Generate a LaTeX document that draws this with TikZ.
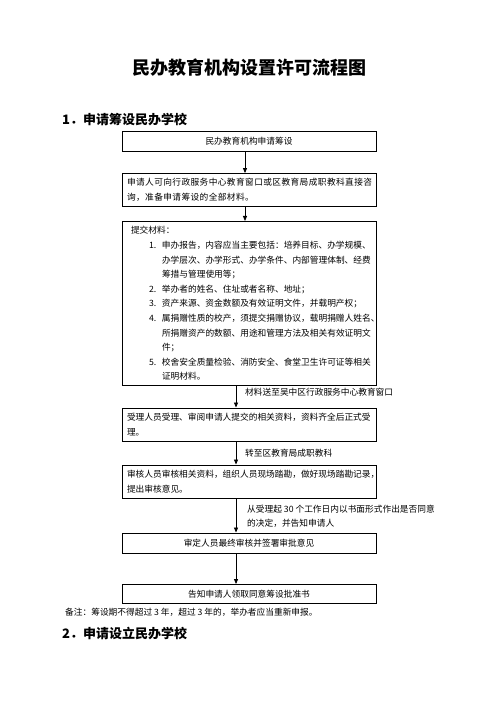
\documentclass[tikz,border=0pt]{standalone}
\usepackage{fontspec}
\setmainfont{Noto Sans CJK SC}
\usetikzlibrary{arrows.meta}
\tikzset{
  box/.style={draw, line width=0.9pt, minimum width=254pt, text width=244pt, inner sep=5pt, align=left, font=\fontsize{8.7}{14.6}\selectfont},
  cbox/.style={box, align=center},
  arr/.style={-{Triangle[length=5pt,width=4pt]}, line width=0.8pt},
  lab/.style={anchor=west, inner sep=2pt, align=left, font=\fontsize{8.7}{14}\selectfont},
  head/.style={anchor=west, inner sep=0pt, font=\bfseries\fontsize{13}{15}\selectfont}
}
\begin{document}
\begin{tikzpicture}[x=1pt, y=-1pt]
\useasboundingbox (0,0) rectangle (496,702);
\node[font=\bfseries\fontsize{18}{20}\selectfont] (title) at (249,68) {民办教育机构设置许可流程图};
\node[head] (h1) at (62,120) {1．申请筹设民办学校};

\node[cbox, minimum height=19.5pt] (b1) at (249,141.5) {民办教育机构申请筹设};
\node[box, minimum height=32pt] (b2) at (249,190) {\addfontfeatures{LetterSpace=4.5}申请人可向行政服务中心教育窗口或区教育局成职教科直接咨\\询，准备申请筹设的全部材料。};
\node[box, minimum height=147pt] (b3) at (249,303.5) {%
\hspace*{4pt}提交材料：\\
\hspace*{22pt}\makebox[13pt][l]{1.}申办报告，内容应当主要包括：培养目标、办学规模、\\
\hspace*{35pt}办学层次、办学形式、办学条件、内部管理体制、经费\\
\hspace*{35pt}筹措与管理使用等；\\
\hspace*{22pt}\makebox[13pt][l]{2.}举办者的姓名、住址或者名称、地址；\\
\hspace*{22pt}\makebox[13pt][l]{3.}资产来源、资金数额及有效证明文件，并载明产权；\\
\hspace*{22pt}\makebox[13pt][l]{4.}属捐赠性质的校产，须提交捐赠协议，载明捐赠人姓名、\\
\hspace*{35pt}所捐赠资产的数额、用途和管理方法及相关有效证明文\\
\hspace*{35pt}件；\\
\hspace*{22pt}\makebox[13pt][l]{5.}校舍安全质量检验、消防安全、食堂卫生许可证等相关\\
\hspace*{35pt}证明材料。};
\node[box, minimum height=33pt] (b4) at (249,424.5) {受理人员受理、审阅申请人提交的相关资料，资料齐全后正式受\\理。};
\node[box, minimum height=33pt] (b5) at (249,481.5) {审核人员审核相关资料，组织人员现场踏勘，做好现场踏勘记录，\\提出审核意见。};
\node[cbox, minimum height=20pt] (b6) at (249,543) {审定人员最终审核并签署审批意见};
\node[cbox, minimum height=19pt] (b7) at (249,594) {告知申请人领取同意筹设批准书};

\draw[arr] ([xshift=-4pt]b1.south) -- ([xshift=-4pt]b2.north);
\draw[arr] ([xshift=-4pt]b2.south) -- ([xshift=-4pt]b3.north);
\draw[arr] ([xshift=-13pt]b3.south) -- ([xshift=-13pt]b4.north);
\draw[arr] ([xshift=-13pt]b4.south) -- ([xshift=-13pt]b5.north);
\draw[arr] ([xshift=-13pt]b5.south) -- ([xshift=-13pt]b6.north);
\draw[arr] ([xshift=-13pt]b6.south) -- ([xshift=-13pt]b7.north);

\node[lab] (l3) at (243,392.5) {材料送至吴中区行政服务中心教育窗口};
\node[lab] (l4) at (243,453) {转至区教育局成职教科};
\node[lab] (l5) at (245,516) {从受理起 30 个工作日内以书面形式作出是否同意\\的决定，并告知申请人};

\node[anchor=west, inner sep=0pt, font=\fontsize{8.7}{10}\selectfont] (note) at (65,612) {备注：筹设期不得超过 3 年，超过 3 年的，举办者应当重新申报。};
\node[head] (h2) at (62,634) {2．申请设立民办学校};
\end{tikzpicture}
\end{document}
